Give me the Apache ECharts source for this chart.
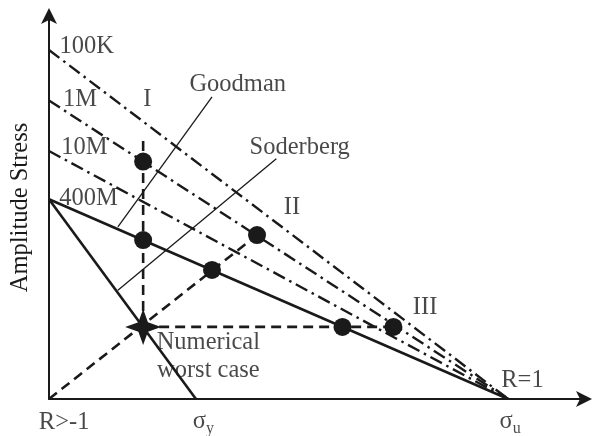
<!DOCTYPE html>
<html>
<head>
<meta charset="utf-8">
<script src="https://cdn.jsdelivr.net/npm/echarts@6/dist/echarts.min.js"></script>
<style>html,body{margin:0;padding:0;background:#fff}#c{width:592px;height:436px}</style>
</head>
<body>
<div id="c"></div>
<script>
// ---- data (schematic units: sigma_u = 100) ----
var sigmaU = 100;
var sigmaY = 32;
var lifeNames = ['100K', '1M', '10M'];
var lifeIntercepts = [76, 65, 54];
var enduranceIntercept = 43.5;           // 400M line
var goodmanSeg = [[15.0, 37.5], [35.5, 65.8]];
var soderbergSeg = [[15.0, 23.7], [49.5, 52.3]];
var starPoint = [20.5, 15.7];
var loadLine = [[0, 0], [45.3, 35.7]];
var verticalLine = [[20.5, 15.7], [20.5, 57.5]];
var horizontalLine = [[20.5, 15.7], [75.0, 15.7]];
var dots = [[20.5, 51.7], [20.5, 34.6], [35.5, 28.1], [45.3, 35.7], [63.9, 15.7], [75.0, 15.7]];
var labelTexts = ['100K', '1M', '10M', '400M', 'I', 'Goodman', 'Soderberg', 'II', 'III', 'R=1', 'Numerical', 'worst case', 'R>-1', '{a|σ}{s|y}', '{a|σ}{s|u}'];
var labelX = [8.2, 6.75, 7.7, 8.6, 21.4, 41.1, 54.6, 52.9, 81.9, 103.1, 34.7, 34.7, 3.3, 33.6, 100.4];
var labelY = [76.7, 65.1, 54.7, 43.6, 65.1, 68.4, 54.7, 41.6, 20.0, 4.1, 12.2, 6.3, -5.2, -5.0, -5.0];

var FONT = '"Liberation Serif", "Times New Roman", serif';
var INK = '#1a1a1a';
var FS = 24.5;

var series = [];
var dashDot = [13, 5, 2.5, 5];
lifeIntercepts.forEach(function (b, i) {
  series.push({
    type: 'line', name: lifeNames[i], symbol: 'none', silent: true,
    data: [[0, b], [sigmaU, 0]],
    lineStyle: { color: INK, width: 2.4, type: dashDot }
  });
});
series.push({ type: 'line', symbol: 'none', data: [[0, enduranceIntercept], [sigmaU, 0]], lineStyle: { color: INK, width: 2.6 } });
series.push({ type: 'line', symbol: 'none', data: [[0, enduranceIntercept], [sigmaY, 0]], lineStyle: { color: INK, width: 2.6 } });
series.push({ type: 'line', symbol: 'none', data: goodmanSeg, lineStyle: { color: INK, width: 1.3 } });
series.push({ type: 'line', symbol: 'none', data: soderbergSeg, lineStyle: { color: INK, width: 1.3 } });
[loadLine, verticalLine, horizontalLine].forEach(function (seg) {
  series.push({ type: 'line', symbol: 'none', data: seg, lineStyle: { color: INK, width: 2.6, type: [10, 6] } });
});
series.push({ type: 'scatter', data: dots, symbol: 'circle', symbolSize: 18, itemStyle: { color: INK, opacity: 1 }, z: 5 });
series.push({
  type: 'scatter', data: [starPoint], z: 6,
  symbol: 'path://M0,-17 L4.5,-4.5 L17,0 L4.5,4.5 L0,17 L-4.5,4.5 L-17,0 L-4.5,-4.5 Z',
  symbolSize: 36, itemStyle: { color: INK, opacity: 1 }
});
series.push({
  type: 'scatter', symbolSize: 0, clip: false, z: 7,
  data: labelTexts.map(function (t, i) { return { value: [labelX[i], labelY[i]], name: t }; }),
  label: {
    show: true, position: 'inside', formatter: function (p) { return p.name; },
    color: INK, fontFamily: FONT, fontSize: FS, align: 'center', verticalAlign: 'middle',
    rich: {
      a: { fontFamily: FONT, fontSize: FS, color: INK },
      s: { fontFamily: FONT, fontSize: 16, color: INK, padding: [13, 0, 0, 0] }
    }
  }
});

var chart = echarts.init(document.getElementById('c'), null, { renderer: 'canvas' });
chart.setOption({
  animation: false,
  backgroundColor: '#fff',
  grid: { left: 49, right: 8, top: 16, bottom: 37, containLabel: false, outerBoundsMode: 'none' },
  xAxis: {
    type: 'value', min: 0, max: 116.5,
    splitLine: { show: false }, axisTick: { show: false }, axisLabel: { show: false },
    axisLine: { show: true, onZero: false, symbol: ['none', 'arrow'], symbolSize: [12, 16], symbolOffset: [0, 8], lineStyle: { color: INK, width: 2 } }
  },
  yAxis: {
    type: 'value', min: 0, max: 83.4,
    name: 'Amplitude Stress', nameLocation: 'middle', nameGap: 16, nameRotate: 90,
    nameTextStyle: { fontFamily: FONT, fontSize: FS, color: INK },
    splitLine: { show: false }, axisTick: { show: false }, axisLabel: { show: false },
    axisLine: { show: true, onZero: false, symbol: ['none', 'arrow'], symbolSize: [12, 16], symbolOffset: [0, 8], lineStyle: { color: INK, width: 2 } }
  },
  series: series
});
</script>
</body>
</html>
